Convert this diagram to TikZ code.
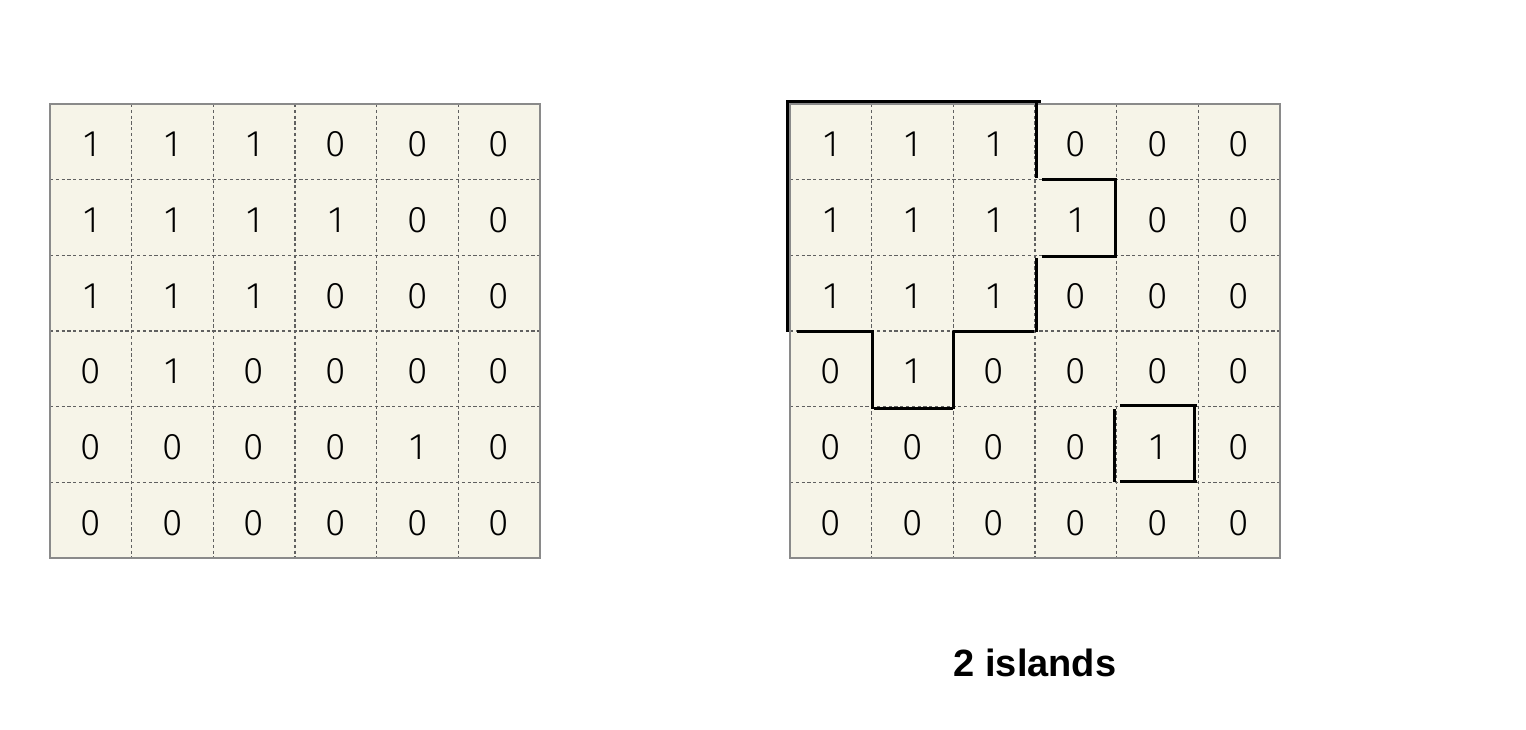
\documentclass[tikz,border=0pt]{standalone}
\usepackage{fontspec}
\setmainfont{Liberation Sans}
\newfontfamily\lightdigits{Fira Sans Light}
\definecolor{cream}{HTML}{F6F4E8}
\definecolor{frame}{HTML}{8A8A8A}
\definecolor{dots}{HTML}{606060}
\tikzset{
  gridfill/.style={fill=cream},
  gridframe/.style={draw=frame, line width=1.2pt},
  gridline/.style={draw=dots, line width=1.2pt, dash pattern=on 3.2pt off 2.6pt},
  digit/.style={font=\lightdigits\fontsize{37}{37}\selectfont, text=black, inner sep=0pt},
  island/.style={draw=black, line width=3pt},
  caption/.style={font=\fontsize{38}{38}\selectfont\bfseries, text=black}
}
\begin{document}
\begin{tikzpicture}[x=1pt,y=-1pt]
\useasboundingbox (0,0) rectangle (1526,730);
\foreach \gx/\gn in {50/L, 790/R} {
  \fill[gridfill] (\gx,104) rectangle ({\gx+490},558);
  \foreach \i in {1,...,5} {
    \draw[gridline] ({\gx+\i*81.667},104) -- ({\gx+\i*81.667},558);
    \draw[gridline] (\gx,{104+\i*75.667}) -- ({\gx+490},{104+\i*75.667});
  }
  \draw[gridframe] (\gx,104) rectangle ({\gx+490},558);
  \foreach \row [count=\r from 0] in {{1,1,1,0,0,0},{1,1,1,1,0,0},{1,1,1,0,0,0},{0,1,0,0,0,0},{0,0,0,0,1,0},{0,0,0,0,0,0}} {
    \foreach \v [count=\c from 0] in \row {
      \node[digit] (\gn-\r-\c) at ({\gx+40.8+\c*81.667},{144.5+\r*75.667}) {\v};
    }
  }
}
% island 1
\draw[island] (786,102) -- (1041,102);
\draw[island] (787,101) -- (787,332);
\draw[island] (1036,102) -- (1036,178);
\draw[island] (1042,180) -- (1117,180);
\draw[island] (1115,180) -- (1115,257);
\draw[island] (1042,256) -- (1117,256);
\draw[island] (1036,258) -- (1036,332);
\draw[island] (953,331) -- (1034,331);
\draw[island] (953,331) -- (953,409);
\draw[island] (874,408) -- (953,408);
\draw[island] (872,331) -- (872,409);
\draw[island] (797,331) -- (874,331);
% island 2
\draw[island] (1120,405) -- (1197,405);
\draw[island] (1194,405) -- (1194,482);
\draw[island] (1120,481) -- (1197,481);
\draw[island] (1114,409) -- (1114,482);
\node[caption] (cap) at (1035,663) {2 islands};
\end{tikzpicture}
\end{document}
